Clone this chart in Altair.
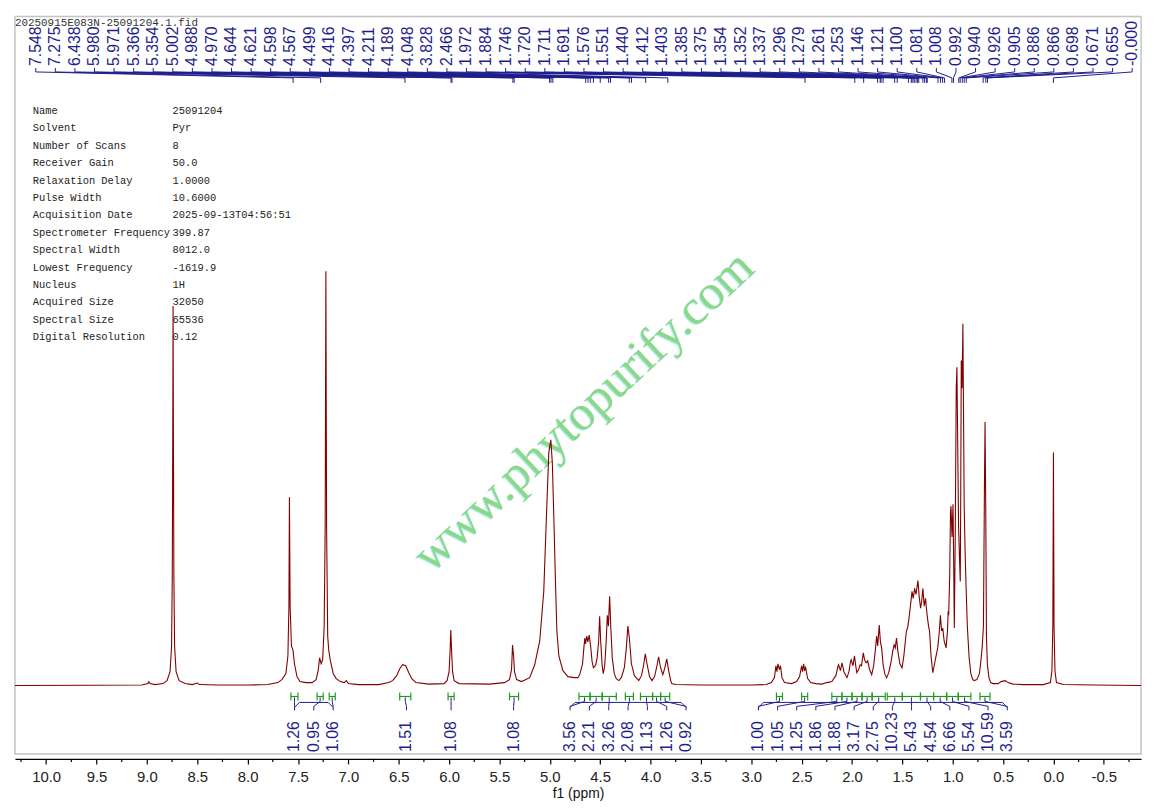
import altair as alt
import pandas as pd

# ---------------- data ----------------
# spectrum vertices: (chemical shift in ppm, intensity)
spectrum_points = [
    (10.31, 0), (9.60, 0.3), (9.05, 0.5), (8.99, 2), (8.98, 4), (8.97, 2), (8.92, 1), (8.84, 2),
    (8.80, 5), (8.77, 14), (8.755, 40), (8.748, 110), (8.743, 260), (8.740, 383), (8.737, 260),
    (8.732, 110), (8.725, 40), (8.71, 14), (8.68, 5), (8.62, 2), (8.55, 1), (8.50, 2.5), (8.48, 1),
    (8.30, 0.5), (8.00, 0.5), (7.80, 1), (7.70, 3), (7.66, 6), (7.62, 12), (7.60, 30), (7.590, 80),
    (7.585, 190), (7.578, 80), (7.565, 40), (7.550, 36), (7.535, 22), (7.51, 9), (7.48, 4), (7.42, 3),
    (7.36, 3), (7.32, 6), (7.30, 15), (7.285, 28), (7.270, 22), (7.255, 26), (7.240, 60), (7.230, 160),
    (7.223, 418), (7.216, 160), (7.205, 50), (7.195, 36), (7.18, 26), (7.15, 12), (7.12, 7), (7.08, 4),
    (7.04, 3), (7.02, 5), (7.00, 2), (6.90, 1), (6.70, 1), (6.60, 3), (6.56, 5), (6.52, 10), (6.49, 17),
    (6.46, 21), (6.43, 20), (6.40, 13), (6.37, 7), (6.33, 3), (6.20, 1.5), (6.05, 2), (6.02, 5),
    (6.00, 14), (5.990, 35), (5.983, 56), (5.975, 35), (5.965, 14), (5.95, 5), (5.90, 2), (5.60, 1.5),
    (5.45, 3), (5.40, 6), (5.38, 16), (5.370, 41), (5.360, 30), (5.350, 14), (5.33, 6), (5.28, 4),
    (5.20, 8), (5.15, 21), (5.10, 45), (5.06, 95), (5.03, 180), (5.01, 235), (4.990, 248), (4.975, 225),
    (4.960, 170), (4.945, 110), (4.93, 55), (4.91, 30), (4.87, 15), (4.82, 9), (4.76, 8), (4.72, 8),
    (4.70, 12), (4.675, 22), (4.660, 40), (4.652, 48), (4.645, 42), (4.633, 50), (4.622, 44),
    (4.609, 51), (4.600, 44), (4.593, 38), (4.580, 24), (4.567, 18), (4.556, 19), (4.544, 21),
    (4.530, 28), (4.515, 45), (4.505, 70), (4.495, 45), (4.480, 20), (4.469, 12), (4.455, 20),
    (4.440, 45), (4.429, 71), (4.418, 60), (4.406, 90), (4.395, 60), (4.380, 28), (4.360, 12),
    (4.340, 7), (4.314, 5), (4.290, 8), (4.260, 18), (4.240, 38), (4.225, 60), (4.210, 48), (4.190, 22),
    (4.160, 10), (4.117, 5), (4.090, 10), (4.070, 20), (4.052, 32), (4.035, 22), (4.010, 9), (3.986, 5),
    (3.960, 9), (3.940, 18), (3.920, 29), (3.900, 18), (3.878, 11), (3.860, 17), (3.839, 27),
    (3.820, 15), (3.800, 5), (3.789, 2), (3.75, 1), (3.50, 0.5), (3.00, 0.5), (2.85, 1), (2.80, 3),
    (2.77, 8), (2.755, 20), (2.745, 14), (2.735, 22), (2.720, 16), (2.710, 20), (2.695, 8), (2.67, 3),
    (2.60, 2), (2.55, 4), (2.52, 9), (2.50, 20), (2.49, 14), (2.48, 22), (2.47, 15), (2.46, 18),
    (2.44, 7), (2.41, 3), (2.36, 2), (2.30, 1.5), (2.25, 3), (2.20, 4), (2.16, 10), (2.14, 19),
    (2.133, 21), (2.115, 15), (2.099, 23), (2.08, 14), (2.050, 8), (2.03, 14), (2.015, 24), (2.008, 26),
    (1.99, 20), (1.975, 30), (1.963, 20), (1.952, 13), (1.935, 16), (1.919, 21), (1.905, 20),
    (1.895, 28), (1.887, 33), (1.875, 26), (1.86, 23), (1.844, 25), (1.825, 16), (1.804, 11),
    (1.785, 20), (1.77, 34), (1.755, 50), (1.745, 40), (1.729, 61), (1.718, 44), (1.706, 38),
    (1.69, 20), (1.672, 11), (1.656, 8), (1.635, 13), (1.61, 25), (1.595, 35), (1.582, 41), (1.57, 38),
    (1.558, 48), (1.545, 35), (1.525, 22), (1.503, 18), (1.485, 30), (1.47, 45), (1.460, 55),
    (1.448, 58), (1.434, 68), (1.42, 80), (1.404, 95), (1.392, 88), (1.378, 98), (1.365, 92),
    (1.345, 106), (1.333, 90), (1.319, 78), (1.308, 85), (1.296, 98), (1.283, 80), (1.270, 88),
    (1.255, 72), (1.240, 60), (1.230, 55), (1.215, 30), (1.198, 13), (1.18, 22), (1.165, 30),
    (1.149, 38), (1.135, 52), (1.122, 71), (1.11, 55), (1.099, 58), (1.085, 45), (1.066, 38),
    (1.052, 55), (1.045, 75), (1.040, 71), (1.03, 110), (1.022, 175), (1.017, 181), (1.007, 150),
    (0.997, 183), (0.99, 120), (0.984, 58), (0.975, 150), (0.965, 300), (0.958, 321), (0.950, 240),
    (0.942, 161), (0.933, 130), (0.925, 105), (0.920, 200), (0.915, 328), (0.907, 300), (0.899, 365),
    (0.893, 280), (0.886, 181), (0.878, 140), (0.869, 105), (0.855, 60), (0.837, 28), (0.82, 12),
    (0.80, 6), (0.787, 5), (0.76, 6), (0.735, 12), (0.72, 25), (0.706, 41), (0.695, 60), (0.685, 200),
    (0.679, 266), (0.672, 180), (0.665, 50), (0.656, 21), (0.64, 8), (0.623, 3), (0.60, 2), (0.55, 2),
    (0.52, 4), (0.48, 5), (0.45, 3), (0.40, 1.5), (0.30, 1), (0.10, 1), (0.03, 3), (0.015, 15),
    (0.006, 60), (0.0, 235), (-0.006, 60), (-0.015, 15), (-0.03, 3), (-0.10, 1), (-0.40, 0.5),
    (-0.87, 0),
]

peak_labels = [
    "7.548", "7.275", "6.438", "5.980", "5.971", "5.366", "5.354", "5.002", "4.988", "4.970",
    "4.644", "4.621", "4.598", "4.567", "4.499", "4.416", "4.397", "4.211", "4.189", "4.048",
    "3.828", "2.466", "1.972", "1.884", "1.746", "1.720", "1.711", "1.691", "1.576", "1.551",
    "1.440", "1.412", "1.403", "1.385", "1.375", "1.354", "1.352", "1.337", "1.296", "1.279",
    "1.261", "1.253", "1.146", "1.121", "1.100", "1.081", "1.008", "0.992", "0.940", "0.926",
    "0.905", "0.886", "0.866", "0.698", "0.671", "0.655", "-0.000",
]

integral_values = [
    "1.26", "0.95", "1.06", "1.51", "1.08", "1.08",
    "3.56", "2.21", "3.26", "2.08", "1.13", "1.26", "0.92",
    "1.00", "1.05", "1.25", "1.86", "1.88", "3.17", "2.75", "10.23", "5.43", "4.54", "6.66",
    "5.54", "10.59", "3.59",
]
integral_from = [7.57, 7.31, 7.19, 6.49, 6.01, 5.40,
                 4.71, 4.60, 4.48, 4.25, 4.10, 3.98, 3.90,
                 2.75, 2.50, 2.20, 2.10, 2.00, 1.90, 1.80, 1.65, 1.50, 1.32, 1.19, 1.06, 0.945, 0.73]
integral_to = [7.50, 7.25, 7.13, 6.38, 5.95, 5.31,
               4.60, 4.48, 4.34, 4.17, 3.98, 3.90, 3.81,
               2.69, 2.44, 2.10, 2.00, 1.90, 1.80, 1.67, 1.50, 1.32, 1.19, 1.06, 0.945, 0.82, 0.63]
# label groups (labels of a group are spread side by side)
integral_groups = [0, 0, 0, 1, 2, 3, 4, 4, 4, 4, 4, 4, 4,
                   5, 5, 5, 5, 5, 5, 5, 5, 5, 5, 5, 5, 5, 5]

param_names = ["Name", "Solvent", "Number of Scans", "Receiver Gain", "Relaxation Delay",
               "Pulse Width", "Acquisition Date", "Spectrometer Frequency", "Spectral Width",
               "Lowest Frequency", "Nucleus", "Acquired Size", "Spectral Size", "Digital Resolution"]
param_values = ["25091204", "Pyr", "8", "50.0", "1.0000", "10.6000", "2025-09-13T04:56:51",
                "399.87", "8012.0", "-1619.9", "1H", "32050", "65536", "0.12"]

file_name = "20250915E083N-25091204.1.fid"
watermark = "www.phytopurify.com"
major_ticks = [10.0, 9.5, 9.0, 8.5, 8.0, 7.5, 7.0, 6.5, 6.0, 5.5, 5.0, 4.5, 4.0, 3.5, 3.0,
               2.5, 2.0, 1.5, 1.0, 0.5, 0.0, -0.5]
minor_ticks = [10.25, 9.75, 9.25, 8.75, 8.25, 7.75, 7.25, 6.75, 6.25, 5.75, 5.25, 4.75, 4.25,
               3.75, 3.25, 2.75, 2.25, 1.75, 1.25, 0.75, 0.25, -0.25, -0.75]

# ---------------- layout ----------------
W, H = 1136, 744
PPM_L, PPM_R = 10.31, -0.87
Y_MIN, Y_MAX = -69, 675
PX = W / (PPM_L - PPM_R)          # pixels per ppm


def ppm_at(px):
    """ppm at a horizontal pixel position inside the plot"""
    return PPM_L - px / PX


def spread(first_px, last_px, n):
    if n == 1:
        return [ppm_at(first_px)]
    return [ppm_at(first_px + (last_px - first_px) * i / (n - 1)) for i in range(n)]


NAVY = "#1e1e8c"
GREEN = "#1f9a1f"
RED = "#800000"

xs = alt.Scale(domain=[PPM_L, PPM_R], nice=False, zero=False)
ys = alt.Scale(domain=[Y_MIN, Y_MAX], nice=False, zero=False)

AX = alt.Axis(values=major_ticks, grid=False, offset=5, tickSize=5,
              tickColor="#000", domainColor="#000", tickWidth=1.2, domainWidth=1.2,
              labelExpr="replace(format(datum.value, '.1f'), '\u2212', '-')",
              labelFont="Liberation Sans", labelFontSize=15, labelColor="#222",
              labelPadding=6, titleFont="Liberation Sans", titleFontSize=14,
              titleFontWeight="normal", titleColor="#111", titlePadding=2,
              labelFlush=False, labelOverlap=False)
TITLE = "f1 (ppm)"


def X(f):
    return alt.X(f, type="quantitative", scale=xs, axis=AX, title=TITLE)


spec_df = pd.DataFrame(spectrum_points, columns=["ppm", "I"])

# top peak labels
slots = spread(21, 1127, len(peak_labels))
peaks_df = pd.DataFrame({
    "label": peak_labels,
    "slot": slots,
    "peak": [float(v) for v in peak_labels],
})

# integrals
int_df = pd.DataFrame({
    "val": integral_values,
    "a": integral_from,
    "b": integral_to,
    "g": integral_groups,
})
int_df["c"] = (int_df["a"] + int_df["b"]) / 2
group_px = {0: (282, 321), 1: (395, 395), 2: (440, 440), 3: (503, 503),
            4: (560, 677), 5: (750, 1001)}
label_pos = []
for g, sub in int_df.groupby("g", sort=True):
    label_pos += spread(group_px[g][0], group_px[g][1], len(sub))
int_df["lab"] = label_pos
brace_rows = []
for g, sub in int_df.groupby("g"):
    if len(sub) > 1:
        brace_rows.append({"x0": sub["lab"].iloc[0], "x1": sub["lab"].iloc[0] - 5 / PX,
                           "x2": sub["lab"].iloc[-1] + 5 / PX, "x3": sub["lab"].iloc[-1]})
brace_df = pd.DataFrame(brace_rows)

one = pd.DataFrame({"k": [0]})
params_df = pd.DataFrame({"name": param_names, "value": param_values,
                          "row": list(range(len(param_names)))})
params_df["y"] = [688 - (108.3 + 17.57 * i) for i in params_df["row"]]
minor_df = pd.DataFrame({"t": minor_ticks})

# spectrum with the ppm axis
spectrum = alt.Chart(spec_df).mark_line(color=RED, strokeWidth=1.1).encode(
    x=X("ppm"),
    y=alt.Y("I:Q", scale=ys, axis=None),
    order=alt.Order("ppm:Q", sort="descending"),
)

minor = alt.Chart(minor_df).mark_rule(color="#000", strokeWidth=1.2).encode(
    x=X("t"), y=alt.value(H + 5), y2=alt.value(H + 8))

# top labels and their connectors
ptext = alt.Chart(peaks_df).mark_text(angle=270, align="left", baseline="middle",
                                      font="Liberation Sans", fontSize=16, color=NAVY).encode(
    x=X("slot"), y=alt.value(50), text="label:N")
pl1 = alt.Chart(peaks_df).mark_rule(color=NAVY, strokeWidth=1).encode(
    x=X("slot"), y=alt.value(52), y2=alt.value(56))
pl2 = alt.Chart(peaks_df).mark_rule(color=NAVY, strokeWidth=1).encode(
    x=X("slot"), x2="peak:Q", y=alt.value(56), y2=alt.value(62))
pl3 = alt.Chart(peaks_df).mark_rule(color=NAVY, strokeWidth=1).encode(
    x=X("peak"), y=alt.value(62), y2=alt.value(67))

# integrals
ih = alt.Chart(int_df).mark_rule(color=GREEN, strokeWidth=1.2).encode(
    x=X("a"), x2="b:Q", y=alt.value(686))
ia = alt.Chart(int_df).mark_rule(color=GREEN, strokeWidth=1.2).encode(
    x=X("a"), y=alt.value(682), y2=alt.value(690))
ib = alt.Chart(int_df).mark_rule(color=GREEN, strokeWidth=1.2).encode(
    x=X("b"), y=alt.value(682), y2=alt.value(690))
ic1 = alt.Chart(int_df).mark_rule(color=NAVY, strokeWidth=1).encode(
    x=X("c"), y=alt.value(687), y2=alt.value(691))
ic2 = alt.Chart(int_df).mark_rule(color=NAVY, strokeWidth=1).encode(
    x=X("c"), x2="lab:Q", y=alt.value(691), y2=alt.value(696))
ic3 = alt.Chart(int_df).mark_rule(color=NAVY, strokeWidth=1).encode(
    x=X("lab"), y=alt.value(696), y2=alt.value(700))
br1 = alt.Chart(brace_df).mark_rule(color=NAVY, strokeWidth=1).encode(
    x=X("x0"), x2="x1:Q", y=alt.value(697), y2=alt.value(692))
br2 = alt.Chart(brace_df).mark_rule(color=NAVY, strokeWidth=1).encode(
    x=X("x1"), x2="x2:Q", y=alt.value(692))
br3 = alt.Chart(brace_df).mark_rule(color=NAVY, strokeWidth=1).encode(
    x=X("x2"), x2="x3:Q", y=alt.value(692), y2=alt.value(697))
itext = alt.Chart(int_df).mark_text(angle=270, align="left", baseline="middle",
                                    font="Liberation Sans", fontSize=16, color=NAVY).encode(
    x=X("lab"), y=alt.value(742), text="val:N")

# parameter table
pnames = alt.Chart(params_df).mark_text(align="left", baseline="middle", font="Liberation Mono",
                                        fontSize=10.5, color="#222").encode(
    x=alt.value(18), y=alt.Y("y:Q", scale=ys, axis=None), text="name:N")
pvals = alt.Chart(params_df).mark_text(align="left", baseline="middle", font="Liberation Mono",
                                       fontSize=10.5, color="#222").encode(
    x=alt.value(159), y=alt.Y("y:Q", scale=ys, axis=None), text="value:N")
fname = alt.Chart(one).mark_text(align="left", baseline="middle", font="Liberation Mono",
                                 fontSize=11, color="#333").encode(
    x=alt.value(0), y=alt.value(7), text=alt.value(file_name))

# watermark
wm_shadow = alt.Chart(one).mark_text(angle=317, align="center", baseline="middle",
                                     font="Liberation Serif", fontSize=50, color="#b4ecf2").encode(
    x=alt.value(573), y=alt.value(399.5), text=alt.value(watermark))
wm = alt.Chart(one).mark_text(angle=317, align="center", baseline="middle",
                              font="Liberation Serif", fontSize=50, color="#8ad88a").encode(
    x=alt.value(574), y=alt.value(398.5), text=alt.value(watermark))

chart = alt.layer(
    wm_shadow, wm, spectrum, minor, pl1, pl2, pl3, ptext,
    ih, ia, ib, ic1, ic2, ic3, br1, br2, br3, itext, pnames, pvals, fname,
).properties(
    width=W, height=H, padding={"left": 4, "top": 5, "right": 5, "bottom": 5}
).configure_view(stroke="#c4c4c4", strokeWidth=1.5)

chart.save("out.html", embed_options={"renderer": "svg", "actions": False})
